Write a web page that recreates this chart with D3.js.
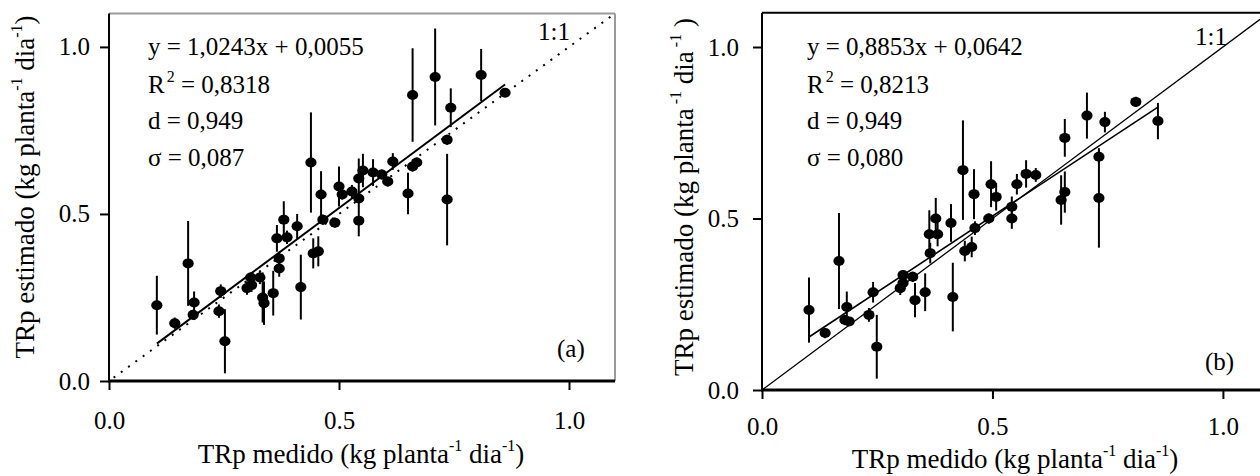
<!DOCTYPE html>
<html><head><meta charset="utf-8">
<script src="https://cdn.jsdelivr.net/npm/d3@7"></script>
<style>html,body{margin:0;padding:0;background:#fff}svg{display:block}text{font-family:"Liberation Serif","Times New Roman",serif;fill:#000}</style>
</head><body>
<svg id="c" width="1260" height="476"></svg>
<script>
// ---- data: panel (a)
const xA = [0.104,0.143,0.172,0.185,0.183,0.243,0.239,0.252,0.300,0.308,0.328,0.310,0.334,0.337,0.357,0.370,0.370,0.365,0.380,0.387,0.409,0.417,0.444,0.455,0.465,0.491,0.439,0.461,0.500,0.507,0.528,0.543,0.543,0.543,0.552,0.574,0.593,0.606,0.617,0.650,0.660,0.669,0.660,0.709,0.743,0.735,0.735,0.809,0.861];
const yA = [0.227,0.173,0.352,0.235,0.198,0.269,0.209,0.119,0.278,0.310,0.310,0.287,0.250,0.233,0.263,0.337,0.367,0.427,0.483,0.430,0.463,0.281,0.382,0.388,0.483,0.474,0.654,0.558,0.582,0.558,0.567,0.606,0.546,0.480,0.630,0.624,0.618,0.597,0.657,0.561,0.642,0.654,0.856,0.910,0.818,0.722,0.543,0.916,0.863];
const eA = [0.088,0.017,0.127,0.033,0.015,0.020,0.020,0.096,0.020,0.015,0.020,0.020,0.075,0.065,0.067,0.025,0.020,0.040,0.055,0.020,0.037,0.097,0.045,0.045,0.015,0.015,0.150,0.070,0.060,0.015,0.020,0.060,0.020,0.047,0.050,0.040,0.015,0.015,0.025,0.062,0.015,0.015,0.140,0.145,0.058,0.015,0.137,0.078,0.010];
// ---- data: panel (b)
const xB = [0.102,0.137,0.167,0.184,0.180,0.189,0.241,0.232,0.249,0.300,0.306,0.306,0.327,0.332,0.354,0.365,0.363,0.377,0.381,0.410,0.414,0.440,0.455,0.462,0.492,0.436,0.460,0.497,0.508,0.542,0.542,0.553,0.573,0.594,0.649,0.657,0.657,0.705,0.744,0.731,0.731,0.811,0.859];
const yB = [0.233,0.166,0.376,0.242,0.204,0.200,0.285,0.219,0.126,0.297,0.312,0.335,0.330,0.262,0.285,0.399,0.454,0.500,0.454,0.487,0.271,0.405,0.417,0.472,0.500,0.641,0.571,0.600,0.563,0.534,0.500,0.600,0.630,0.627,0.554,0.577,0.735,0.800,0.781,0.680,0.560,0.840,0.784];
const eB = [0.095,0.015,0.140,0.045,0.015,0.010,0.030,0.020,0.093,0.020,0.015,0.015,0.015,0.050,0.055,0.030,0.070,0.060,0.035,0.055,0.100,0.030,0.030,0.020,0.015,0.145,0.073,0.067,0.040,0.030,0.030,0.030,0.040,0.020,0.072,0.060,0.055,0.067,0.030,0.020,0.145,0.015,0.053];
// regression coefficients [slope, intercept]
const regA = [1.0243, 0.0055];
const regB = [0.8853, 0.0642];
const statsA = ["y = 1,0243x + 0,0055", "0,8318", "d = 0,949", "σ = 0,087"];
const statsB = ["y = 0,8853x + 0,0642", "0,8213", "d = 0,949", "σ = 0,080"];
const tickVals = [0.0, 0.5, 1.0];
const domain = [0, 1.1];

const svg = d3.select("#c");
const FS = 25, FT = 27, FSUP = 16;

function panel(cfg){
  const x = d3.scaleLinear().domain(domain).range(cfg.xr);
  const y = d3.scaleLinear().domain(domain).range(cfg.yr);
  const g = svg.append("g");
  const clipId = "clip" + cfg.id;
  svg.append("clipPath").attr("id", clipId).append("rect")
    .attr("x", x(0)).attr("y", y(1.1)).attr("width", x(1.1)-x(0)).attr("height", y(0)-y(1.1));
  // frame
  g.append("line").attr("x1", x(0)).attr("x2", x(1.1)).attr("y1", y(1.1)).attr("y2", y(1.1))
    .attr("stroke", cfg.frameColor).attr("stroke-width", 2);
  g.append("line").attr("x1", x(1.1)).attr("x2", x(1.1)).attr("y1", y(1.1)).attr("y2", y(0))
    .attr("stroke", cfg.frameColor).attr("stroke-width", 2);
  // 1:1 line
  g.append("line").attr("clip-path", `url(#${clipId})`)
    .attr("x1", x(cfg.oneStart)).attr("y1", y(cfg.oneStart)).attr("x2", x(1.1)).attr("y2", y(1.1))
    .attr("stroke", "#000").attr("stroke-width", cfg.oneWidth)
    .attr("stroke-dasharray", cfg.oneDash);
  // regression line
  const x0 = d3.min(cfg.xs), x1 = d3.max(cfg.xs);
  g.append("line").attr("x1", x(x0)).attr("y1", y(cfg.reg[0]*x0+cfg.reg[1]))
    .attr("x2", x(x1)).attr("y2", y(cfg.reg[0]*x1+cfg.reg[1]))
    .attr("stroke", "#000").attr("stroke-width", cfg.regWidth);
  // error bars
  const idx = d3.range(cfg.xs.length);
  g.append("g").selectAll("line").data(idx).join("line")
    .attr("x1", i => x(cfg.xs[i])).attr("x2", i => x(cfg.xs[i]))
    .attr("y1", i => y(cfg.ys[i]-cfg.es[i])).attr("y2", i => y(cfg.ys[i]+cfg.es[i]))
    .attr("stroke", "#000").attr("stroke-width", 2);
  // points
  g.append("g").selectAll("ellipse").data(idx).join("ellipse")
    .attr("cx", i => x(cfg.xs[i])).attr("cy", i => y(cfg.ys[i]))
    .attr("rx", 5.6).attr("ry", 5).attr("fill", "#000");
  // axes
  const ax = g.append("g").attr("transform", `translate(0,${y(0)})`)
    .call(d3.axisBottom(x).tickValues(tickVals).tickFormat(d3.format(".1f")).tickSize(9).tickPadding(cfg.xPad));
  const ay = g.append("g").attr("transform", `translate(${x(0)},0)`)
    .call(d3.axisLeft(y).tickValues(tickVals).tickFormat(d3.format(".1f")).tickSize(9).tickPadding(cfg.yPad));
  [ax, ay].forEach(a => {
    a.select(".domain").remove();
    a.selectAll(".tick line").attr("stroke", "#000").attr("stroke-width", 2);
    a.selectAll(".tick text").attr("font-size", FS).attr("font-family", '"Liberation Serif", serif').attr("fill", "#000");
  });
  // left & bottom axis lines
  g.append("line").attr("x1", x(0)).attr("x2", x(0)).attr("y1", y(1.1)).attr("y2", y(0)+1)
    .attr("stroke", "#000").attr("stroke-width", 2);
  g.append("line").attr("x1", x(0)-1).attr("x2", x(1.1)).attr("y1", y(0)).attr("y2", y(0))
    .attr("stroke", "#000").attr("stroke-width", 3);
  // stats text
  const tx = cfg.textX;
  g.append("text").attr("x", tx).attr("y", cfg.textY).attr("font-size", FS).text(cfg.stats[0]);
  const r2 = g.append("text").attr("x", tx).attr("y", cfg.textY + 38).attr("font-size", FS);
  r2.append("tspan").text("R");
  r2.append("tspan").attr("font-size", FSUP).attr("dy", -11).attr("dx", 2).text("2");
  r2.append("tspan").attr("dy", 11).text(" = " + cfg.stats[1]);
  g.append("text").attr("x", tx).attr("y", cfg.textY + 74).attr("font-size", FS).text(cfg.stats[2]);
  g.append("text").attr("x", tx).attr("y", cfg.textY + 111).attr("font-size", FS).text(cfg.stats[3]);
  g.append("text").attr("x", cfg.oneX).attr("y", cfg.oneY).attr("font-size", FS).text("1:1");
  g.append("text").attr("x", cfg.labX).attr("y", cfg.labY).attr("font-size", FS).text(cfg.label);
  // axis titles
  const xt = g.append("text").attr("x", cfg.xtX).attr("y", cfg.xtY).attr("font-size", FT).attr("text-anchor", "middle");
  xt.append("tspan").text("TRp medido (kg planta");
  xt.append("tspan").attr("font-size", FSUP).attr("dy", -12).text("-1");
  xt.append("tspan").attr("dy", 12).text(" dia");
  xt.append("tspan").attr("font-size", FSUP).attr("dy", -12).text("-1");
  xt.append("tspan").attr("dy", 12).text(")");
  const yt = g.append("text").attr("transform", `translate(${cfg.ytX},${cfg.ytY}) rotate(-90)`)
    .attr("font-size", FT).attr("text-anchor", "middle");
  yt.append("tspan").text("TRp estimado (kg planta");
  yt.append("tspan").attr("font-size", FSUP).attr("dy", -12).text(cfg.supGap ? " -1" : "-1");
  yt.append("tspan").attr("dy", 12).text(cfg.supGap ? "  dia" : " dia");
  yt.append("tspan").attr("font-size", FSUP).attr("dy", -12).text(cfg.supGap ? " -1" : "-1");
  yt.append("tspan").attr("dy", 12).text(cfg.supGap ? " )" : ")");
}

panel({id:"a", xr:[109, 615], yr:[381, 13.5], xs:xA, ys:yA, es:eA, reg:regA, stats:statsA,
  frameColor:"#9a9a9a", oneStart:0.01, oneWidth:2, oneDash:"2,7", regWidth:2,
  xPad:21, yPad:10, textX:148, textY:55, oneX:538, oneY:40, labX:557, labY:357, label:"(a)",
  xtX:361, xtY:463, ytX:34, ytY:187, supGap:false});
panel({id:"b", xr:[762, 1269], yr:[390, 12.7], xs:xB, ys:yB, es:eB, reg:regB, stats:statsB,
  frameColor:"#000", oneStart:0, oneWidth:1.3, oneDash:null, regWidth:1.6,
  xPad:18, yPad:14, textX:807, textY:55, oneX:1195, oneY:45, labX:1205, labY:370, label:"(b)",
  xtX:1015, xtY:468, ytX:693, ytY:197, supGap:true});
</script>
</body></html>
